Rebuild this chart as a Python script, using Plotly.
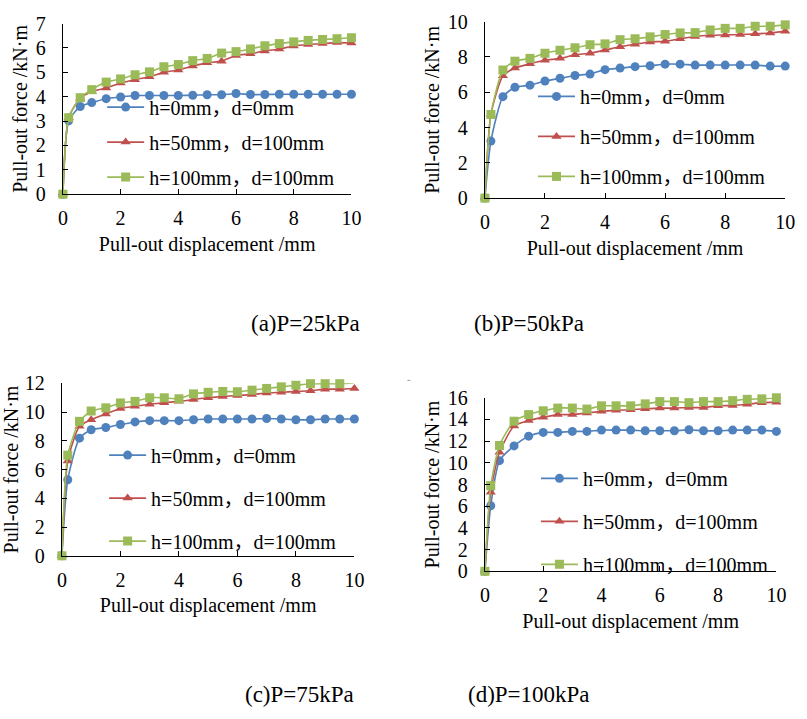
import plotly.graph_objects as go

W, H = 807, 719

# Pull-out displacement (mm) at each reading
disp_abc = [0, 0.2, 0.6, 1, 1.5, 2, 2.5, 3, 3.5, 4, 4.5, 5, 5.5, 6, 6.5, 7, 7.5, 8, 8.5, 9, 9.5, 10]
disp_d = [0, 0.2, 0.5, 1, 1.5, 2, 2.5, 3, 3.5, 4, 4.5, 5, 5.5, 6, 6.5, 7, 7.5, 8, 8.5, 9, 9.5, 10]

series_names = ["h=0mm，d=0mm", "h=50mm，d=100mm", "h=100mm，d=100mm"]

# (a) P=25kPa
a_h0 = [0, 3.01, 3.60, 3.76, 3.92, 3.99, 4.05, 4.05, 4.05, 4.05, 4.06, 4.08, 4.08, 4.13, 4.09, 4.09, 4.10, 4.10, 4.10, 4.10, 4.10, 4.10]
a_h50 = [0, 3.14, 3.94, 4.20, 4.36, 4.56, 4.70, 4.82, 5.00, 5.10, 5.26, 5.39, 5.46, 5.69, 5.76, 5.88, 5.96, 6.08, 6.14, 6.18, 6.22, 6.20]
a_h100 = [0, 3.14, 3.96, 4.29, 4.60, 4.73, 4.90, 5.02, 5.23, 5.32, 5.48, 5.57, 5.79, 5.85, 5.96, 6.09, 6.18, 6.25, 6.31, 6.35, 6.38, 6.42]

# (b) P=50kPa
b_h0 = [0, 3.23, 5.75, 6.28, 6.40, 6.64, 6.79, 6.95, 7.03, 7.28, 7.37, 7.45, 7.50, 7.59, 7.59, 7.54, 7.54, 7.54, 7.54, 7.54, 7.48, 7.48]
b_h50 = [0, 4.74, 6.93, 7.37, 7.61, 7.81, 7.92, 8.12, 8.21, 8.39, 8.58, 8.72, 8.85, 8.89, 9.03, 9.16, 9.23, 9.25, 9.27, 9.31, 9.36, 9.45]
b_h100 = [0, 4.74, 7.26, 7.76, 7.92, 8.21, 8.38, 8.52, 8.69, 8.74, 8.98, 9.03, 9.14, 9.27, 9.36, 9.38, 9.53, 9.62, 9.62, 9.74, 9.74, 9.82]

# (c) P=75kPa
c_h0 = [0, 5.29, 8.18, 8.77, 8.92, 9.13, 9.31, 9.40, 9.40, 9.40, 9.46, 9.51, 9.51, 9.51, 9.51, 9.55, 9.51, 9.46, 9.46, 9.51, 9.51, 9.51]
c_h50 = [0, 6.59, 9.01, 9.46, 9.87, 10.25, 10.40, 10.54, 10.65, 10.74, 10.87, 10.99, 11.08, 11.14, 11.21, 11.32, 11.37, 11.43, 11.48, 11.59, 11.59, 11.64]
c_h100 = [0, 7.00, 9.35, 10.07, 10.29, 10.63, 10.74, 10.99, 10.99, 10.92, 11.26, 11.37, 11.43, 11.41, 11.52, 11.64, 11.75, 11.86, 11.97, 11.97, 11.97, 12.04]

# (d) P=100kPa
d_h0 = [0, 6.05, 10.20, 11.56, 12.46, 12.81, 12.81, 12.90, 12.90, 13.02, 13.02, 13.02, 12.96, 12.96, 12.96, 13.05, 12.96, 12.96, 13.02, 13.02, 13.02, 12.90]
d_h50 = [0, 7.30, 10.97, 13.40, 13.90, 14.20, 14.45, 14.45, 14.60, 14.75, 14.84, 14.90, 14.99, 15.05, 15.05, 15.10, 15.10, 15.26, 15.29, 15.40, 15.55, 15.60]
d_h100 = [0, 7.90, 11.60, 13.84, 14.45, 14.80, 15.05, 15.05, 14.96, 15.26, 15.26, 15.26, 15.44, 15.65, 15.65, 15.55, 15.65, 15.65, 15.74, 15.86, 15.90, 16.00]

captions = ["(a)P=25kPa", "(b)P=50kPa", "(c)P=75kPa", "(d)P=100kPa"]
y_max = [7, 10, 12, 16]
y_dtick = [1, 2, 2, 2]

colors = ["#4F81BD", "#C0504D", "#9BBB59"]
symbols = ["circle", "triangle-up", "square"]
msizes = [9, 9, 9]

FONT = "Liberation Serif, Times New Roman, Noto Sans CJK SC, serif"
BLACK = "#000000"

# plot box in pixels (left, right, top, bottom) and legend (left, top, gap)
panels = [
    dict(x=disp_abc, ys=[a_h0, a_h50, a_h100], box=(59, 353, 13, 189), leg=(99, 79, 6)),
    dict(x=disp_abc, ys=[b_h0, b_h50, b_h100], box=(489, 795, 11, 193), leg=(538, 68, 11)),
    dict(x=disp_abc, ys=[c_h0, c_h50, c_h100], box=(58, 356, 384, 562), leg=(101, 438, 14)),
    dict(x=disp_d, ys=[d_h0, d_h50, d_h100], box=(489, 786, 399, 578), leg=(541, 462, 14)),
]
caption_pos = [(306, 322), (534, 322), (300, 705), (534, 705)]


def px_x(v):
    return v / W


def px_y(v):
    return 1 - v / H


fig = go.Figure()
layout = {}

for i, p in enumerate(panels):
    n = i + 1
    xa = "xaxis" if n == 1 else f"xaxis{n}"
    ya = "yaxis" if n == 1 else f"yaxis{n}"
    xref = "x" if n == 1 else f"x{n}"
    yref = "y" if n == 1 else f"y{n}"
    leg = "legend" if n == 1 else f"legend{n}"
    x0, x1, y0, y1 = p["box"]

    for k in range(3):
        fig.add_trace(go.Scatter(
            x=p["x"], y=p["ys"][k], name=series_names[k],
            mode="lines+markers", xaxis=xref, yaxis=yref, legend=leg,
            legendgroup=f"{leg}-{k}",
            line=dict(color=colors[k], width=1.6, shape="spline", smoothing=0.6),
            marker=dict(symbol=symbols[k], size=msizes[k], color=colors[k]),
            cliponaxis=False,
        ))

    axis_common = dict(
        showline=True, linecolor=BLACK, linewidth=1.3, mirror=False,
        ticks="inside", ticklen=5, tickwidth=1.3, tickcolor=BLACK,
        showgrid=False, zeroline=False,
        tickfont=dict(family=FONT, size=20, color=BLACK),
    )
    layout[xa] = dict(
        axis_common, domain=[px_x(x0), px_x(x1)], range=[0, 10], dtick=2,
        anchor=yref, ticklabelstandoff=6,
        title=dict(text="Pull-out displacement /mm",
                   font=dict(family=FONT, size=20, color=BLACK), standoff=8),
    )
    layout[ya] = dict(
        axis_common, domain=[px_y(y1), px_y(y0)], range=[0, y_max[i]],
        dtick=y_dtick[i], anchor=xref, ticklabelstandoff=12,
        title=dict(text="Pull-out force /kN·m",
                   font=dict(family=FONT, size=20, color=BLACK), standoff=2),
    )
    lx, ly, gap = p["leg"]
    layout[leg] = dict(
        x=px_x(lx), y=px_y(ly), xanchor="left", yanchor="top",
        xref="paper", yref="paper",
        bgcolor="rgba(0,0,0,0)", borderwidth=0,
        font=dict(family=FONT, size=20, color=BLACK),
        tracegroupgap=gap, itemwidth=37,
    )

annotations = []
for (cx, cy), text in zip(caption_pos, captions):
    annotations.append(dict(
        x=px_x(cx), y=px_y(cy), xref="paper", yref="paper",
        text=text, showarrow=False, xanchor="center", yanchor="middle",
        font=dict(family=FONT, size=23, color=BLACK),
    ))

fig.update_layout(
    width=W, height=H,
    margin=dict(l=0, r=0, t=0, b=0),
    paper_bgcolor="white", plot_bgcolor="white",
    showlegend=True,
    annotations=annotations,
    shapes=[dict(type="line", xref="paper", yref="paper",
                 x0=px_x(410), x1=px_x(413), y0=px_y(381), y1=px_y(381),
                 line=dict(color="#9a9a9a", width=1))],
    **layout,
)

fig.write_html("out.html")
